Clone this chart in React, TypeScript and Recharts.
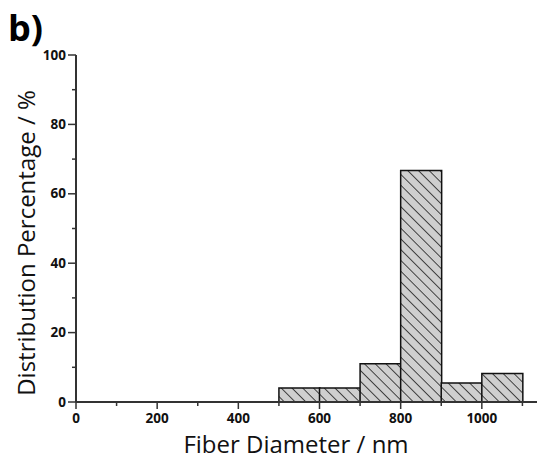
import React from "react";
import { ComposedChart, Bar, XAxis, YAxis, Label } from "recharts";

// Histogram bins (fiber diameter, nm) and distribution percentages
const binCenters = [550, 650, 750, 850, 950, 1050];
const binValues = [4.0, 4.0, 11.0, 66.7, 5.5, 8.2];

const xTicks = [0, 100, 200, 300, 400, 500, 600, 700, 800, 900, 1000, 1100];
const yTicks = [0, 10, 20, 30, 40, 50, 60, 70, 80, 90, 100];

const data = binCenters.map((c, i) => ({ center: c, value: binValues[i] }));

const FONT = "'Open Sans', 'DejaVu Sans', sans-serif";
const AXIS = "#333";

const XTick = (props: any) => {
  const { x, y, payload } = props;
  const major = payload.value % 200 === 0;
  return (
    <g>
      <line x1={x} x2={x} y1={y} y2={y + (major ? 7 : 4)} stroke={AXIS} strokeWidth={1.5} />
      {major && (
        <text x={x} y={y + 21} textAnchor="middle" fontFamily={FONT} fontWeight={700} fontSize={13.5} fill="#111">
          {payload.value}
        </text>
      )}
    </g>
  );
};

const YTick = (props: any) => {
  const { x, y, payload } = props;
  const major = payload.value % 20 === 0;
  return (
    <g>
      <line x1={x - (major ? 8 : 4)} x2={x} y1={y} y2={y} stroke={AXIS} strokeWidth={1.5} />
      {major && (
        <text x={x - 10} y={y + 4.5} textAnchor="end" fontFamily={FONT} fontWeight={700} fontSize={13.5} fill="#111">
          {payload.value}
        </text>
      )}
    </g>
  );
};

export default function App() {
  return (
    <div style={{ position: "absolute", left: 0, top: 0, width: 537, height: 459, overflow: "hidden", background: "#fff" }}>
      <ComposedChart width={580} height={459} data={data} margin={{ top: 55, right: 17, bottom: 0, left: 0 }} barCategoryGap={0} barGap={0}>
        <defs>
          <pattern id="hatch" patternUnits="userSpaceOnUse" width={7.6} height={7.6} patternTransform="rotate(-45)">
            <rect x={0} y={0} width={7.6} height={7.6} fill="#cfcfcf" />
            <line x1={0} y1={0} x2={0} y2={7.6} stroke="#111" strokeWidth={1.5} />
          </pattern>
        </defs>
        <XAxis
          dataKey="center"
          type="number"
          domain={[0, 1200]}
          ticks={xTicks}
          interval={0}
          tickSize={0}
          tickMargin={0}
          tickLine={false}
          tick={<XTick />}
          axisLine={{ stroke: AXIS, strokeWidth: 2 }}
          height={57}
        >
          <Label
            content={() => (
              <text x={296} y={453} textAnchor="middle" fontFamily={FONT} fontSize={24} fill="#111">
                Fiber Diameter / nm
              </text>
            )}
          />
        </XAxis>
        <XAxis xAxisId="top" orientation="top" type="number" domain={[0, 1200]} tick={false} tickLine={false} axisLine={{ stroke: AXIS, strokeWidth: 2 }} height={0} />
        <YAxis
          type="number"
          domain={[0, 100]}
          ticks={yTicks}
          interval={0}
          tickSize={0}
          tickMargin={0}
          tickLine={false}
          tick={<YTick />}
          axisLine={{ stroke: AXIS, strokeWidth: 2 }}
          width={76}
        >
          <Label
            content={() => (
              <g>
                <text x={0} y={0} transform="translate(35,243) rotate(-90)" textAnchor="middle" fontFamily={FONT} fontSize={24} fill="#111">
                  Distribution Percentage / %
                </text>
                <text x={8} y={41} fontFamily={FONT} fontWeight={700} fontSize={36} fill="#000">
                  b)
                </text>
              </g>
            )}
          />
        </YAxis>
        <Bar dataKey="value" fill="url(#hatch)" stroke="#111" strokeWidth={1.5} isAnimationActive={false} />
      </ComposedChart>
    </div>
  );
}
